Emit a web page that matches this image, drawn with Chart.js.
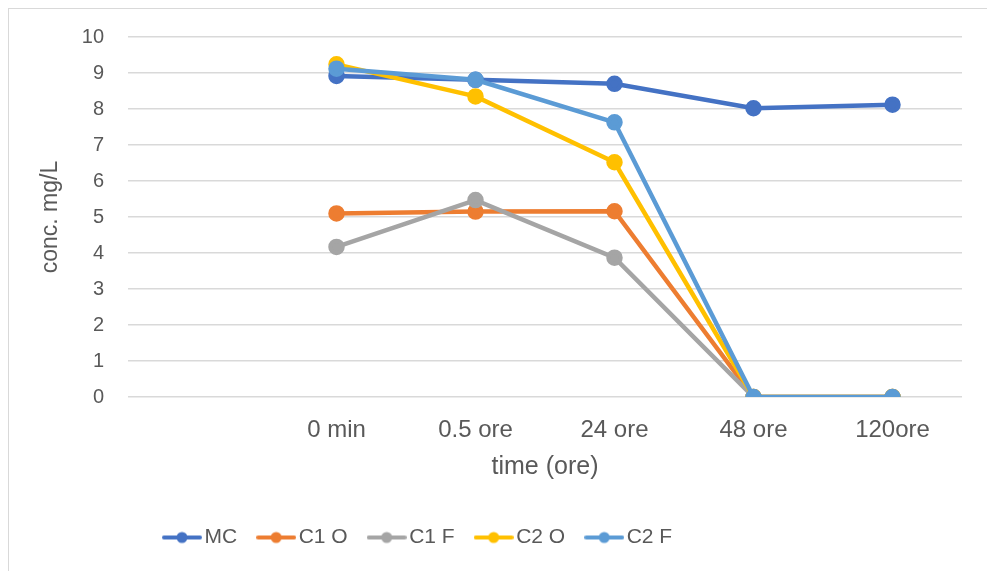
<!DOCTYPE html>
<html>
<head>
<meta charset="utf-8">
<script src="https://cdn.jsdelivr.net/npm/chart.js@4.4.1/dist/chart.umd.min.js"></script>
<style>
  html, body { margin: 0; padding: 0; background: #fff; overflow: hidden; }
  #frame { position: absolute; left: 8px; top: 8px; width: 1300px; height: 900px; border: 1px solid #d9d9d9; }
  #wrap { position: absolute; left: 0; top: 0; width: 987px; height: 571px; }
</style>
</head>
<body>
<div id="frame"></div>
<div id="wrap"><canvas id="concChart"></canvas></div>
<script>
// categorie (la prima è vuota, come nel grafico originale)
const categories = ['', '0 min', '0.5 ore', '24 ore', '48 ore', '120ore'];

// valori (mg/L)
const mc  = [null, 8.92, 8.81, 8.70, 8.02, 8.12];
const c1o = [null, 5.10, 5.15, 5.16, 0, 0];
const c1f = [null, 4.17, 5.47, 3.87, 0, 0];
const c2o = [null, 9.24, 8.35, 6.52, 0, 0];
const c2f = [null, 9.12, 8.81, 7.63, 0, 0];

const yTicks = [0, 1, 2, 3, 4, 5, 6, 7, 8, 9, 10];

const seriesNames = ['MC', 'C1 O', 'C1 F', 'C2 O', 'C2 F'];
const seriesData = [mc, c1o, c1f, c2o, c2f];
const seriesColors = ['#4472C4', '#ED7D31', '#A5A5A5', '#FFC000', '#5B9BD5'];

const textColor = '#595959';
const fontFamily = '"Liberation Sans", Arial, sans-serif';

// icona legenda: linea con pallino
function legendIcon(color) {
    const c = document.createElement('canvas');
    c.width = 40;
    c.height = 14;
    const g = c.getContext('2d');
    g.strokeStyle = color;
    g.lineWidth = 4;
    g.lineCap = 'round';
    g.beginPath();
    g.moveTo(2, 7);
    g.lineTo(38, 7);
    g.stroke();
    g.fillStyle = color;
    g.beginPath();
    g.arc(20, 7, 5.5, 0, Math.PI * 2);
    g.fill();
    return c;
}
const icons = seriesColors.map(legendIcon);

const datasets = seriesNames.map((name, i) => ({
    label: name,
    data: seriesData[i],
    borderColor: seriesColors[i],
    backgroundColor: seriesColors[i],
    pointBackgroundColor: seriesColors[i],
    pointBorderColor: seriesColors[i],
    borderWidth: 4.5,
    pointRadius: 6,
    pointHoverRadius: 6,
    tension: 0,
    order: seriesNames.length - i   // le ultime serie sopra
}));

// sposta la legenda come nell'originale
const legendShift = {
    id: 'legendShift',
    afterLayout(chart) {
        if (chart.legend) chart.legend.left = 143;
    }
};

const ctx = document.getElementById('concChart');
new Chart(ctx, {
    type: 'line',
    data: { labels: categories, datasets: datasets },
    plugins: [legendShift],
    options: {
        responsive: true,
        maintainAspectRatio: false,
        animation: false,
        layout: { padding: { left: 10, right: 25, top: 37, bottom: 13 } },
        scales: {
            x: {
                offset: true,
                grid: { display: false, drawTicks: false },
                border: { display: false },
                ticks: {
                    color: textColor,
                    padding: 19,
                    maxRotation: 0,
                    autoSkip: false,
                    font: { family: fontFamily, size: 24 }
                },
                title: {
                    display: true,
                    text: 'time (ore)',
                    color: textColor,
                    padding: { top: 0, bottom: 18 },
                    font: { family: fontFamily, size: 25 }
                },
                afterFit(scale) {
                    scale.height = 103;
                    scale.paddingLeft = 0;
                    scale.paddingRight = 0;
                }
            },
            y: {
                min: 0,
                max: 10,
                grid: { color: '#d9d9d9', lineWidth: 1.5, drawTicks: false },
                border: { display: false },
                afterBuildTicks(scale) {
                    scale.ticks = yTicks.map(v => ({ value: v }));
                },
                ticks: {
                    color: textColor,
                    padding: 24,
                    font: { family: fontFamily, size: 20 }
                },
                title: {
                    display: true,
                    text: 'conc. mg/L',
                    color: textColor,
                    padding: { top: 27, bottom: 0 },
                    font: { family: fontFamily, size: 23 }
                },
                afterFit(scale) { scale.width = 118; }
            }
        },
        plugins: {
            legend: {
                position: 'bottom',
                align: 'start',
                labels: {
                    color: textColor,
                    usePointStyle: true,
                    pointStyleWidth: 24,
                    padding: 27,
                    font: { family: fontFamily, size: 21 },
                    generateLabels(chart) {
                        return chart.data.datasets.map((ds, i) => ({
                            text: ds.label,
                            pointStyle: icons[i],
                            fillStyle: ds.borderColor,
                            strokeStyle: ds.borderColor,
                            lineWidth: 0,
                            fontColor: textColor,
                            hidden: !chart.isDatasetVisible(i),
                            datasetIndex: i
                        }));
                    }
                }
            },
            tooltip: { enabled: false }
        }
    }
});
</script>
</body>
</html>
